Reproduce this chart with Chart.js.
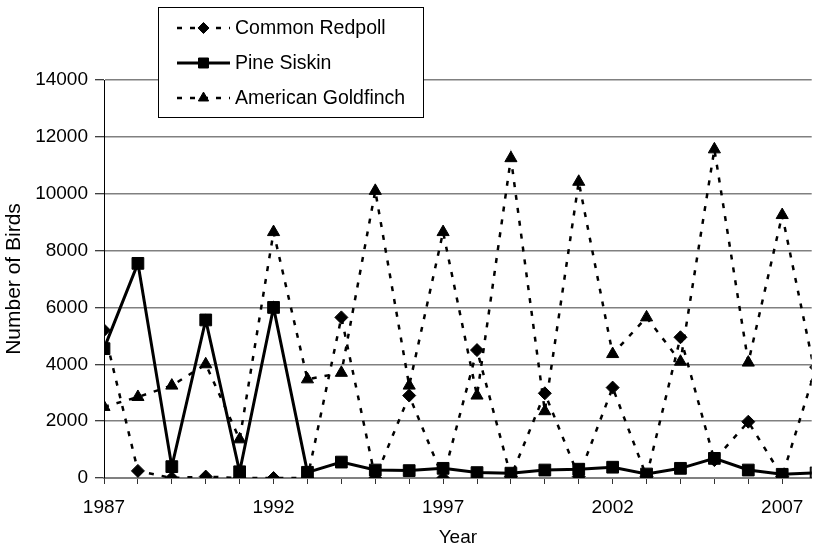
<!DOCTYPE html>
<html>
<head>
<meta charset="utf-8">
<script src="https://cdn.jsdelivr.net/npm/chart.js@4.4.1/dist/chart.umd.min.js"></script>
<style>
  html, body { margin: 0; padding: 0; background: #fff; }
</style>
</head>
<body>
<canvas id="chart" width="821" height="552"></canvas>
<script>
// values
const years = [1987, 1988, 1989, 1990, 1991, 1992, 1993, 1994, 1995, 1996, 1997,
               1998, 1999, 2000, 2001, 2002, 2003, 2004, 2005, 2006, 2007, 2008];
const redpoll = [5200, 250, 0, 50, 0, 0, 0, 5650, 0, 2900, 0,
                 4500, 50, 2980, 50, 3180, 50, 4950, 630, 1980, 50, 3900];
const siskin = [4550, 7550, 400, 5560, 220, 6000, 200, 560, 280, 260, 340,
                190, 170, 280, 310, 380, 140, 340, 690, 280, 130, 180];
const goldfinch = [2500, 2850, 3250, 4000, 1360, 8650, 3470, 3700, 10100, 3250, 8650,
                   2900, 11250, 2350, 10420, 4360, 5650, 4090, 11560, 4060, 9250, 3500];
const seriesNames = ["Common Redpoll", "Pine Siskin", "American Goldfinch"];
const yTicks = [0, 2000, 4000, 6000, 8000, 10000, 12000, 14000];
const xLabelYears = [1987, 1992, 1997, 2002, 2007];

const font = "'Liberation Sans', Arial, sans-serif";
const xMax = 2007.87;

function pts(vals) {
  return years.map((yr, i) => ({ x: yr, y: vals[i] }));
}

// legend box drawn by hand so it can sit over the top of the plot like the original
const boxLegend = {
  id: 'boxLegend',
  afterDraw(chart) {
    const ctx = chart.ctx;
    ctx.save();
    ctx.fillStyle = '#fff';
    ctx.fillRect(158.5, 7.5, 265, 110);
    ctx.strokeStyle = '#000';
    ctx.lineWidth = 1;
    ctx.strokeRect(158.5, 7.5, 265, 110);
    chart.data.datasets.forEach((ds, i) => {
      const y = 28 + i * 35;
      ctx.beginPath();
      ctx.setLineDash(ds.borderDash || []);
      ctx.lineWidth = ds.borderWidth;
      ctx.strokeStyle = '#000';
      ctx.moveTo(177, y);
      ctx.lineTo(230, y);
      ctx.stroke();
      ctx.setLineDash([]);
      ctx.fillStyle = '#000';
      ctx.lineWidth = 1;
      Chart.helpers.drawPoint(ctx, { pointStyle: ds.pointStyle, radius: ds.pointRadius * 0.85, borderWidth: 1 }, 203.5, y);
      ctx.font = "19.5px " + font;
      ctx.textBaseline = 'middle';
      ctx.textAlign = 'left';
      ctx.fillText(ds.label, 235, y + 1);
    });
    ctx.restore();
  }
};

new Chart(document.getElementById('chart'), {
  type: 'line',
  data: {
    datasets: [
      {
        label: seriesNames[0],
        data: pts(redpoll),
        borderColor: '#000',
        backgroundColor: '#000',
        borderWidth: 2.5,
        borderDash: [5, 8],
        pointStyle: 'rectRot',
        pointRadius: 6.5,
        pointBorderWidth: 1,
        tension: 0
      },
      {
        label: seriesNames[1],
        data: pts(siskin),
        borderColor: '#000',
        backgroundColor: '#000',
        borderWidth: 3,
        pointStyle: 'rect',
        pointRadius: 8.3,
        pointBorderWidth: 1,
        tension: 0
      },
      {
        label: seriesNames[2],
        data: pts(goldfinch),
        borderColor: '#000',
        backgroundColor: '#000',
        borderWidth: 2.5,
        borderDash: [5, 8],
        pointStyle: 'triangle',
        pointRadius: 7,
        pointBorderWidth: 1,
        tension: 0
      }
    ]
  },
  options: {
    responsive: false,
    animation: false,
    layout: { padding: { top: 80, right: 0, left: 0, bottom: 0 } },
    plugins: {
      legend: { display: false },
      tooltip: { enabled: false }
    },
    scales: {
      x: {
        type: 'linear',
        min: 1987,
        max: xMax,
        afterBuildTicks: scale => {
          scale.ticks = years.filter(v => v <= xMax).map(v => ({ value: v }));
        },
        afterFit: scale => { scale.height = 74; },
        ticks: {
          autoSkip: false,
          maxRotation: 0,
          padding: 12,
          color: '#000',
          font: { family: font, size: 19 },
          callback: v => xLabelYears.includes(v) ? String(v) : ''
        },
        grid: { drawOnChartArea: false, tickLength: 6, color: '#333' },
        border: { color: '#808080', width: 2 },
        title: {
          display: true,
          text: 'Year',
          color: '#000',
          font: { family: font, size: 19 },
          padding: { top: 0, bottom: 3 }
        }
      },
      y: {
        min: 0,
        max: 14000,
        afterBuildTicks: scale => {
          scale.ticks = yTicks.map(v => ({ value: v }));
        },
        afterFit: scale => { scale.width = 104; },
        ticks: {
          padding: 7,
          color: '#000',
          font: { family: font, size: 19 },
          callback: v => String(v)
        },
        grid: { color: '#808080', lineWidth: 1.5, tickLength: 9, tickColor: '#000', tickWidth: 1 },
        border: { color: '#000', width: 1 },
        title: {
          display: true,
          text: 'Number of Birds',
          color: '#000',
          font: { family: font, size: 21 },
          padding: { top: 2, bottom: 2 }
        }
      }
    }
  },
  plugins: [boxLegend]
});
</script>
</body>
</html>
